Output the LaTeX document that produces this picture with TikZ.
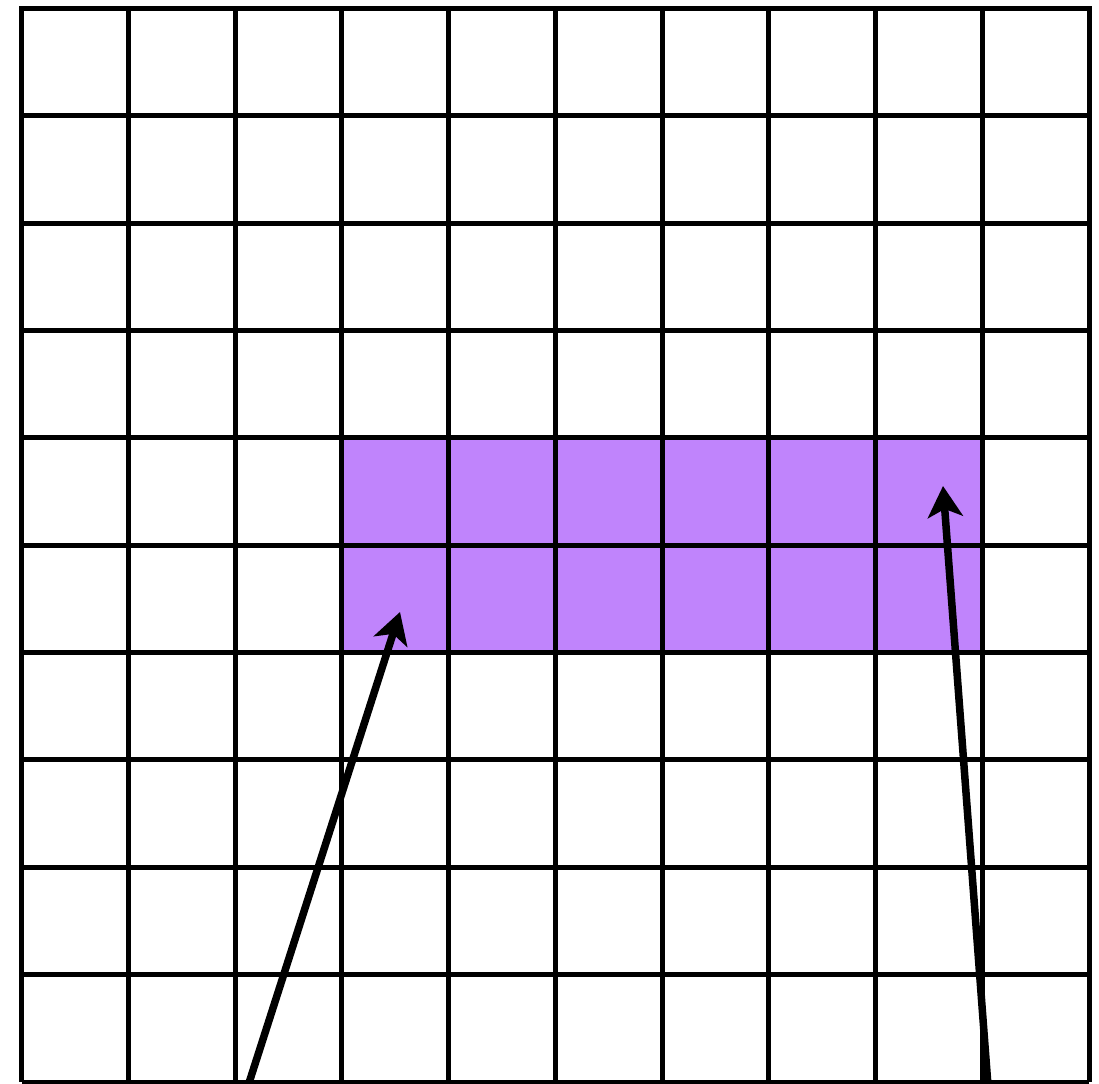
\documentclass[tikz,border=0pt]{standalone}
\usetikzlibrary{arrows.meta}
\definecolor{hl}{HTML}{C084FC}
\tikzset{
  gridline/.style={line width=5pt, black},
  pointer/.style={line width=7.5pt, black, -{Stealth[length=31pt,width=35pt,inset=8pt]}},
}
\begin{document}
\begin{tikzpicture}[x=1pt,y=-1pt]
\useasboundingbox (0,0) rectangle (1099,1083);
% highlighted block
\fill[hl] (343.75,437.9) rectangle (984.0,652.6);
% grid
\foreach \i in {0,...,10} {
  \draw[gridline] ({21.5+\i*106.75},8.5) -- ({21.5+\i*106.75},1082);
  \draw[gridline] (21.5,{8.5+\i*107.35}) -- (1089,{8.5+\i*107.35});
}
\draw[gridline, line join=miter] (21.5,1082) -- (21.5,8.5) -- (1089,8.5) -- (1089,1082);
% arrows
\coordinate (s1) at (248,1086);
\coordinate (t1) at (400,612);
\coordinate (s2) at (988,1086);
\coordinate (t2) at (943,486);
\draw[pointer] (s1) -- (t1);
\draw[pointer] (s2) -- (t2);
\end{tikzpicture}
\end{document}
